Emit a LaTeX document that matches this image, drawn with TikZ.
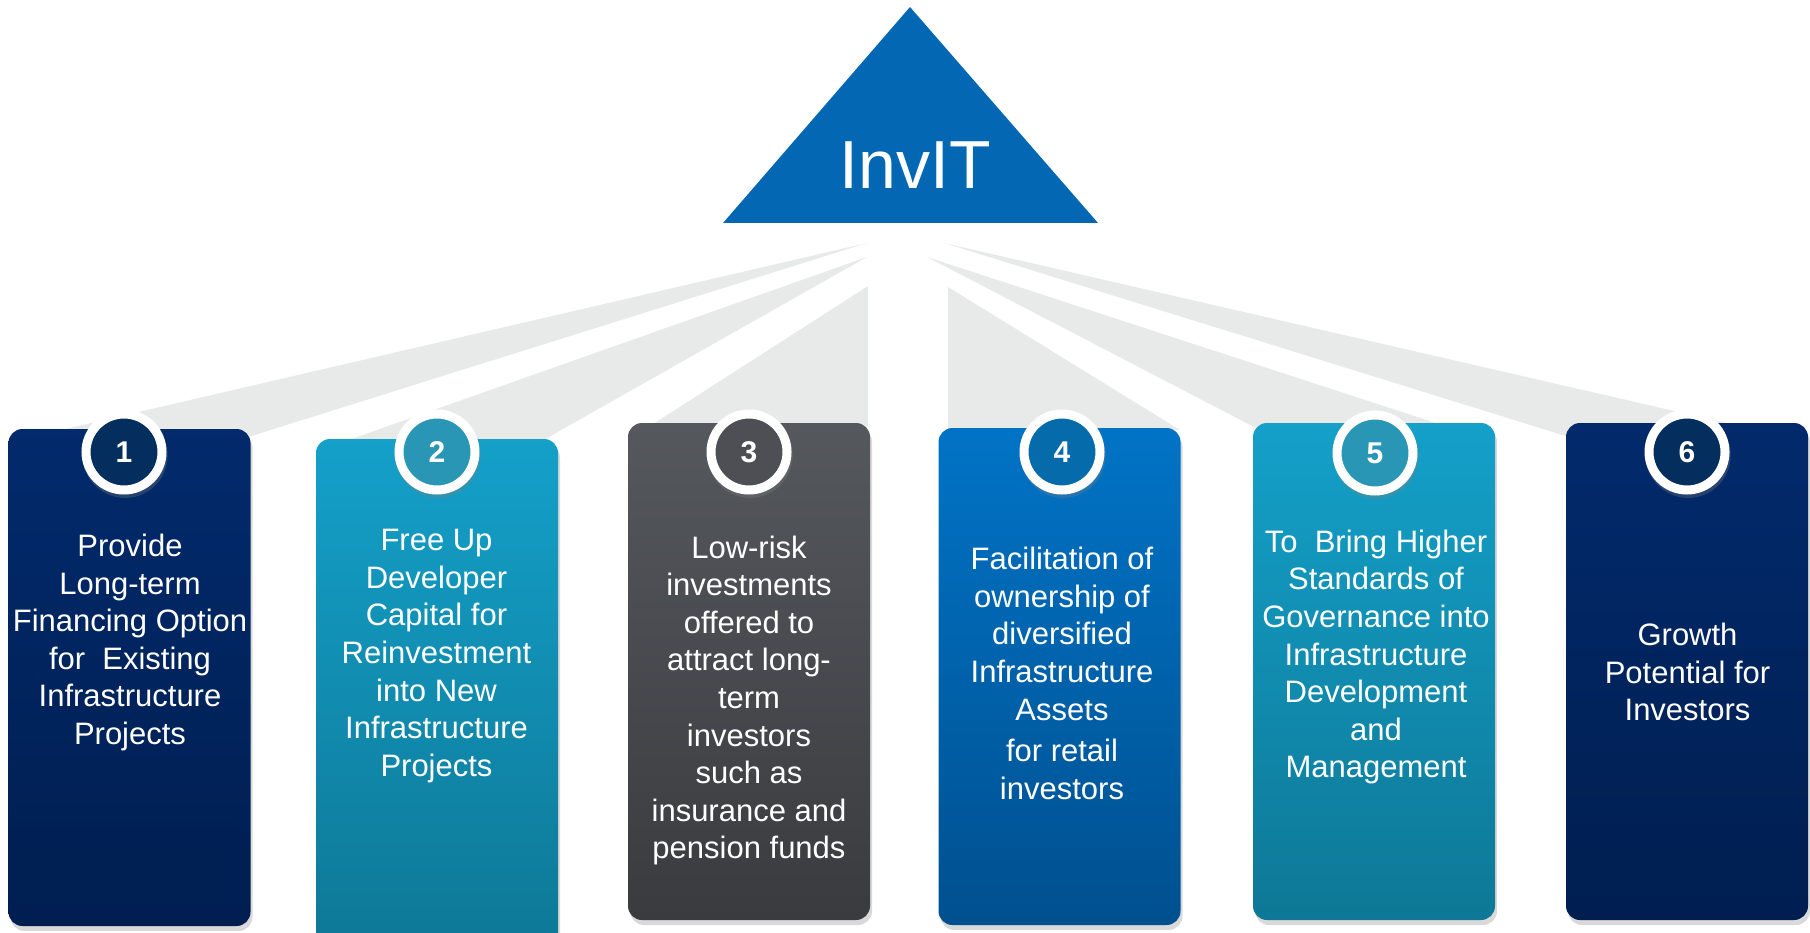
\documentclass[tikz,border=0pt]{standalone}
\usepackage{fontspec}
\setmainfont{Liberation Sans}
\usetikzlibrary{shadows}

\definecolor{navytop}{RGB}{2,42,108}
\definecolor{navybot}{RGB}{0,30,80}
\definecolor{tealtop}{RGB}{20,160,201}
\definecolor{tealbot}{RGB}{14,120,150}
\definecolor{slatetop}{RGB}{85,88,93}
\definecolor{slatebot}{RGB}{58,59,63}
\definecolor{bluetop}{RGB}{1,115,198}
\definecolor{bluebot}{RGB}{0,80,143}
\definecolor{navyring}{RGB}{3,46,94}
\definecolor{tealring}{RGB}{42,150,181}
\definecolor{slatering}{RGB}{77,79,84}
\definecolor{bluering}{RGB}{5,107,170}
\definecolor{apexblue}{RGB}{3,103,179}
\definecolor{beamgray}{RGB}{232,234,234}

\begin{document}
\begin{tikzpicture}[
            x = 1pt,
            y = -1pt,
            card/.style 2 args = {
                rectangle,
                rounded corners = 14pt,
                top color = #1,
                bottom color = #2,
                minimum width = 242pt,
                minimum height = 497pt,
                inner sep = 0pt,
                drop shadow = {opacity = 0.3, shadow xshift = 2pt, shadow yshift = -5pt}
            },
            badge/.style = {
                circle,
                draw = white,
                line width = 9pt,
                fill = #1,
                minimum size = 76pt,
                inner sep = 0pt,
                text = white,
                font = \fontsize{30}{30}\selectfont\bfseries,
                drop shadow = {opacity = 0.3, shadow scale = 1.12, shadow xshift = 1pt, shadow yshift = -3pt}
            },
            blurb/.style = {
                align = center,
                text = white,
                font = \fontsize{31}{37.6}\selectfont
            },
            beam/.style = {fill = beamgray}
            ]
            \useasboundingbox (0,0) rectangle (1810,933);

            % rays from the top
            \fill[beam] (867,243) -- (35,436) -- (245,438) -- cycle;
            \fill[beam] (867,257) -- (343,442) -- (540,442) -- cycle;
            \fill[beam] (868,286) -- (650,426) -- (868,426) -- cycle;
            \fill[beam] (948,287) -- (948,430) -- (1180,430) -- cycle;
            \fill[beam] (927,257) -- (1451,428) -- (1256,428) -- cycle;
            \fill[beam] (944,243) -- (1783,436) -- (1572,438) -- cycle;

            \fill[apexblue] (910,7) -- (1098,223) -- (723,223) -- cycle;
            \node[anchor = base, text = white, font = \fontsize{68}{68}\selectfont] (invit) at (915,189) {InvIT};

            \node[card = {navytop}{navybot}] (p1) at (129.5,677.5) {};
            \node[card = {tealtop}{tealbot}, minimum height = 511pt] (p2) at (437,694.5) {};
            \node[card = {slatetop}{slatebot}] (p3) at (749,671.5) {};
            \node[card = {bluetop}{bluebot}] (p4) at (1059.5,676.5) {};
            \node[card = {tealtop}{tealbot}] (p5) at (1374,671.5) {};
            \node[card = {navytop}{navybot}] (p6) at (1687,671.5) {};

            \node[badge = navyring] (n1) at (124,452) {1};
            \node[badge = tealring] (n2) at (437,452) {2};
            \node[badge = slatering] (n3) at (749,452) {3};
            \node[badge = bluering] (n4) at (1062,452) {4};
            \node[badge = tealring] (n5) at (1375,453) {5};
            \node[badge = navyring] (n6) at (1687,452) {6};

            \node[blurb] (t1) at (130,642.5) {Provide\\Long-term\\Financing Option\\for~~Existing\\Infrastructure\\Projects};
            \node[blurb] (t2) at (436.5,656) {Free Up\\Developer\\Capital for\\Reinvestment\\into New\\Infrastructure\\Projects};
            \node[blurb] (t3) at (749,700.5) {Low-risk\\investments\\offered to\\attract long-\\term\\investors\\such as\\insurance and\\pension funds};
            \node[blurb] (t4) at (1062,673.5) {Facilitation of\\ownership of\\diversified\\Infrastructure\\Assets\\[4pt]for retail\\investors};
            \node[blurb] (t5) at (1376,657) {To~~Bring Higher\\Standards of\\Governance into\\Infrastructure\\Development\\and\\Management};
            \node[blurb] (t6) at (1687.5,672) {Growth\\Potential for\\Investors};
        \end{tikzpicture}
\end{document}
